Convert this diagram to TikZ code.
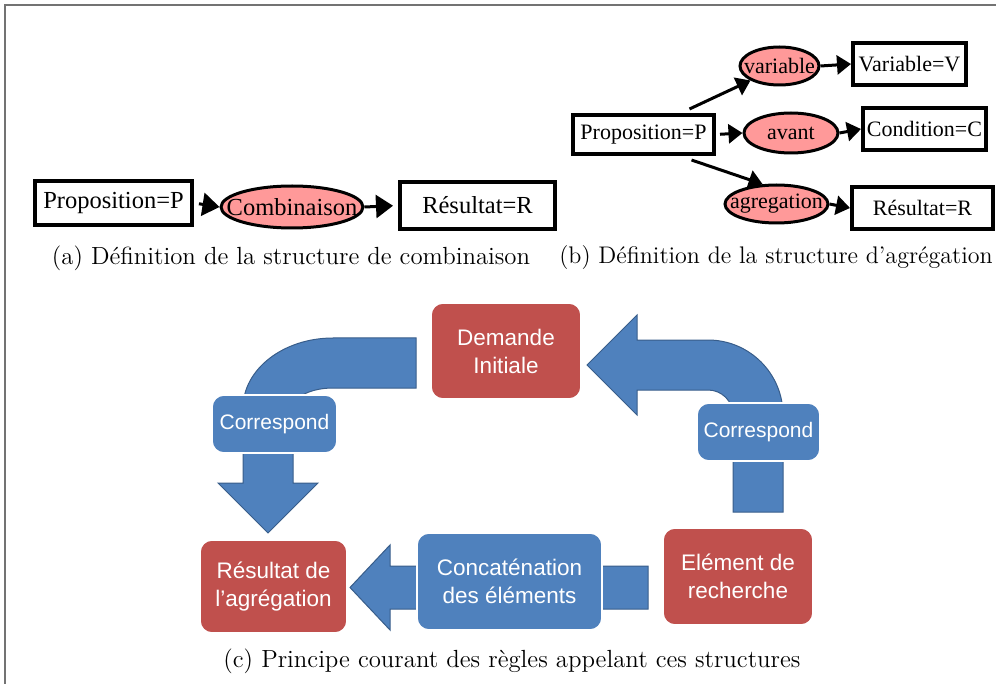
\documentclass[tikz,border=0pt]{standalone}
\usepackage{fontspec}
\newfontfamily\boxfont{Liberation Serif}
\newfontfamily\smartfont{Liberation Sans}
\usetikzlibrary{shapes.geometric,arrows.meta}
\definecolor{bullerose}{HTML}{FF9999}
\definecolor{smartrouge}{HTML}{C0504D}
\definecolor{smartbleu}{HTML}{4F81BD}
\definecolor{smartbord}{HTML}{385D8A}
\begin{document}
\begin{tikzpicture}[x=0.5pt,y=-0.5pt,
  cadre/.style={draw,rectangle,line width=2pt,inner sep=0pt},
  bulle/.style={draw,ellipse,line width=1.5pt,fill=bullerose,inner sep=0pt},
  fleche/.style={line width=1.5pt,-{Triangle[length=8.5pt,width=11.5pt]}},
  petitefleche/.style={line width=1.5pt,-{Triangle[length=7pt,width=9.5pt]}},
  grandtexte/.style={font=\boxfont\fontsize{12.25}{14}\selectfont},
  petittexte/.style={font=\boxfont\fontsize{11}{13}\selectfont},
  bloc/.style={rectangle,rounded corners=6pt,draw=white,line width=0.8pt,
    inner sep=0pt,text=white,align=center,
    font=\smartfont\fontsize{11.25}{14}\selectfont},
  blocrouge/.style={bloc,fill=smartrouge},
  blocbleu/.style={bloc,fill=smartbleu},
  etiquette/.style={blocbleu,minimum height=29pt,
    font=\smartfont\fontsize{10.5}{12}\selectfont},
  grossefleche/.style={fill=smartbleu,draw=smartbord,line width=0.5pt},
  legende/.style={font=\fontsize{12.4}{14}\selectfont}]
  \useasboundingbox (0,0) rectangle (996,684);
  \draw[black!55,line width=1pt] (5,684) -- (5,5) -- (996,5);

  % (a) combinaison
  \node[cadre,grandtexte,minimum width=78.5pt,minimum height=22pt] (propa) at (113.5,203) {\makebox[0pt]{Proposition=P}};
  \node[bulle,grandtexte,minimum width=71pt,minimum height=21pt] (comb) at (292,207) {\makebox[0pt]{Combinaison}};
  \node[cadre,grandtexte,minimum width=77.5pt,minimum height=23.5pt] (resa) at (477.5,205.5) {\makebox[0pt]{Résultat=R}};
  \draw[fleche,shorten <=2.5pt] (propa.east) -- (comb.west);
  \draw[fleche,shorten >=2.5pt] (comb.east) -- (resa.west);
  \node[legende] (capa) at (291,258) {(a) Définition de la structure de combinaison};

  % (b) agregation
  \node[cadre,petittexte,minimum width=70.5pt,minimum height=19.5pt] (propb) at (643.5,134.5) {\makebox[0pt]{Proposition=P}};
  \node[bulle,petittexte,minimum width=39.5pt,minimum height=19pt] (var) at (779.5,66) {\makebox[0pt]{variable}};
  \node[bulle,petittexte,minimum width=47pt,minimum height=20pt] (avant) at (791,133) {\makebox[0pt]{avant}};
  \node[bulle,petittexte,minimum width=51.5pt,minimum height=19pt] (agreg) at (776.5,204) {\makebox[0pt]{agregation}};
  \node[cadre,petittexte,minimum width=56.5pt,minimum height=21pt] (varb) at (909.5,64) {\makebox[0pt]{Variable=V}};
  \node[cadre,petittexte,minimum width=61.5pt,minimum height=21pt] (cond) at (924.5,129) {\makebox[0pt]{Condition=C}};
  \node[cadre,petittexte,minimum width=70.5pt,minimum height=21pt] (resb) at (922.5,208) {\makebox[0pt]{Résultat=R}};
  \draw[petitefleche] ([xshift=23pt,yshift=2pt]propb.north) -- (var.south west);
  \draw[petitefleche,shorten <=2pt] (propb.east) -- (avant.west);
  \draw[petitefleche] ([xshift=24pt,yshift=-2pt]propb.south) -- (agreg.125);
  \draw[petitefleche] (var.east) -- (varb.west);
  \draw[petitefleche] (avant.east) -- (cond.west);
  \draw[petitefleche] (agreg.east) -- (resb.west);
  \node[legende,anchor=east,font=\fontsize{12}{14}\selectfont,inner sep=0pt] (capb) at (993,258) {(b) Définition de la structure d’agrégation};

  % (c) principe
  \draw[grossefleche] (416,338) -- (333,338) arc[start angle=270,end angle=180,x radius=90,y radius=70]
    -- (243,483) -- (218,483) -- (268,533) -- (318,483) -- (293,483) -- (293,408)
    arc[start angle=180,end angle=270,x radius=40,y radius=20] -- (416,388) -- cycle;
  \draw[grossefleche] (733,512) -- (733,415) arc[start angle=0,end angle=-90,radius=25]
    -- (637,390) -- (637,415) -- (587,365) -- (637,315) -- (637,340) -- (708,340)
    arc[start angle=-90,end angle=0,radius=75] -- (783,512) -- cycle;
  \draw[grossefleche] (648,566) -- (390,566) -- (390,545) -- (350,587.5) -- (390,630)
    -- (390,609) -- (648,609) -- cycle;

  \node[blocrouge,minimum width=75pt,minimum height=48pt] (demande) at (506,351) {Demande\\Initiale};
  \node[etiquette,minimum width=62.5pt] (corrg) at (274.5,424) {Correspond};
  \node[etiquette,minimum width=61.5pt] (corrd) at (758.5,432) {Correspond};
  \node[blocrouge,minimum width=75pt,minimum height=48.5pt] (element) at (738,576.5) {Elément de\\recherche};
  \node[blocbleu,minimum width=92.5pt,minimum height=48.5pt] (concat) at (509.5,581.5) {Concaténation\\des éléments};
  \node[blocrouge,minimum width=73.5pt,minimum height=46.5pt] (resultat) at (273.5,586.5) {Résultat de\\l’agrégation};
  \node[legende] (capc) at (512,661) {(c) Principe courant des règles appelant ces structures};
\end{tikzpicture}
\end{document}
